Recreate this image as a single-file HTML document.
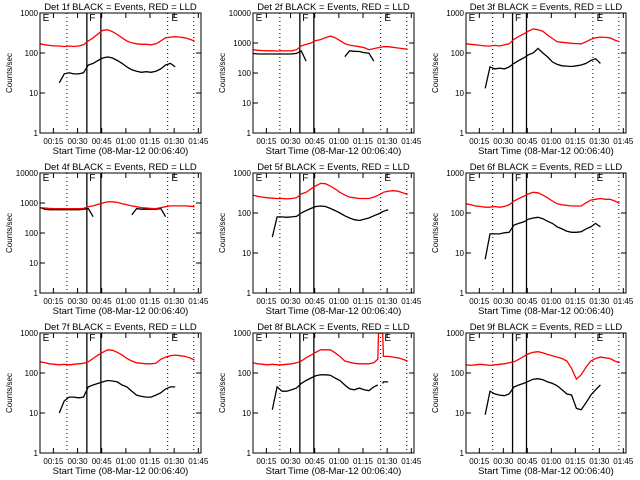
<!DOCTYPE html>
<html><head><meta charset="utf-8"><style>
html,body{margin:0;padding:0;background:#fff;}
svg{display:block;font-family:"Liberation Sans",sans-serif;}
</style></head><body>
<svg id="chart" width="640" height="480" xmlns="http://www.w3.org/2000/svg"></svg>
<script>
const T = [0,3,6,9,12,15,18,21,24,27,30,33,36,39,42,45,48,51,54,57,60,63,66,69,72,75,78,81,84,87,90,93,96];
const T8 = [0,3,6,9,12,15,18,21,24,27,30,33,36,39,42,45,48,51,54,57,60,63,66,69,72,75,77.5,78,80.5,81,84,87,90,93,96];
const detNames = ["1f","2f","3f","4f","5f","6f","7f","8f","9f"];
const xTickLabels = ["00:15","00:30","00:45","01:00","01:15","01:30","01:45"];
const xTickMinutes = [8.33,23.33,38.33,53.33,68.33,83.33,98.33];
const dottedLines = [16.7,79.3,95.5];
const solidLines = [29.1,37.8];
const markerLabels = ["E","F","E"];
const markerMinutes = [1,30,81];
const yMax = [1000,10000,1000,10000,1000,1000,1000,1000,1000];
const red1=[170,160,155,150,150,145,150,145,150,160,200,240,300,370,380,340,290,240,200,180,170,165,165,160,170,200,240,250,255,250,240,220,200];
const blk1=[null,null,null,null,18,30,32,30,30,32,50,55,65,75,80,75,65,55,45,38,35,33,34,33,35,40,50,55,45,null,null,null,null];
const red2=[600,570,560,550,550,540,550,545,550,600,800,900,1000,1200,1300,1500,1700,1500,1200,950,850,800,750,700,600,650,700,750,750,720,680,650,620];
const blk2=[450,430,430,430,430,430,430,430,430,450,540,250,null,null,null,null,null,null,null,350,550,530,520,480,460,250,null,null,null,null,null,null,null];
const red3=[170,165,160,155,150,150,155,150,160,170,220,260,300,350,400,380,350,280,230,190,185,180,175,172,170,190,220,240,250,245,240,210,190];
const blk3=[null,null,null,null,13,45,40,42,40,45,55,65,75,90,100,130,100,80,60,52,48,47,46,48,50,55,65,72,55,null,null,null,null];
const red4=[700,680,660,650,650,650,650,650,650,660,750,800,900,1000,1100,1100,1050,950,880,800,750,700,680,660,650,700,750,800,800,800,800,780,750];
const blk4=[700,620,600,600,600,600,600,600,600,620,650,350,null,null,null,null,null,null,null,400,650,620,620,620,620,650,350,null,null,null,null,null,null];
const red5=[280,260,250,240,235,230,230,225,230,240,300,330,400,480,550,540,470,400,330,280,250,240,230,230,230,250,280,330,350,360,350,320,290];
const blk5=[null,null,null,null,25,80,80,78,80,82,100,115,130,145,150,145,130,115,100,85,75,68,65,70,75,85,95,110,120,null,null,null,null];
const red6=[170,160,150,145,140,140,145,140,145,160,200,230,260,300,330,320,280,240,200,170,160,155,150,150,150,180,210,220,230,220,220,200,175];
const blk6=[null,null,null,null,7,30,30,30,32,33,50,55,60,70,75,78,72,62,55,45,40,35,33,33,34,40,45,55,45,null,null,null,null];
const red7=[190,180,170,165,160,165,160,165,170,175,190,230,280,330,380,370,330,280,230,200,180,175,170,170,175,220,250,270,280,270,260,240,210];
const blk7=[null,null,null,null,10,20,25,25,24,25,45,50,55,60,65,63,60,50,45,35,28,26,25,25,28,32,40,45,45,null,null,null,null];
const red8=[180,170,165,160,165,160,160,165,170,180,200,240,280,330,380,380,380,320,260,200,185,175,170,170,170,180,220,1200,1200,260,260,250,240,220,200];
const blk8=[null,null,null,null,12,45,35,35,38,42,55,65,75,85,90,90,88,75,65,50,40,38,42,38,36,45,50,null,55,60,60,null,null,null,null];
const red9=[160,155,160,165,160,155,160,165,170,180,190,220,260,300,330,340,320,290,270,250,230,200,130,70,90,140,200,230,250,240,230,200,180];
const blk9=[null,null,null,null,9,35,30,28,27,30,45,50,55,62,70,72,68,60,55,48,38,30,28,13,12,18,28,38,50,null,null,null,null];

const reds=[red1,red2,red3,red4,red5,red6,red7,red8,red9];
const blks=[blk1,blk2,blk3,blk4,blk5,blk6,blk7,blk8,blk9];
const times=[T,T,T,T,T,T,T,T8,T];

const NS="http://www.w3.org/2000/svg";
const svg=document.getElementById("chart");
const colX=[[40,201],[253,414],[466,626]];
const rowY=[0,160,320];
const XMAX=100;
function mk(tag,attrs,parent){const e=document.createElementNS(NS,tag);for(const k in attrs)e.setAttribute(k,attrs[k]);parent.appendChild(e);return e;}

for(let p=0;p<9;p++){
  const r=Math.floor(p/3),c=p%3;
  const L=colX[c][0],R=colX[c][1],top=rowY[r]+13,bot=rowY[r]+133;
  const ymax=yMax[p];
  const dec=Math.log10(ymax);
  const xs=t=>L+(t/XMAX)*(R-L);
  const ys=v=>bot-(Math.log10(v)/dec)*(bot-top);
  const g=mk("g",{},svg);
  
  
  const cp=mk("clipPath",{id:"cp"+p},g);
  mk("rect",{x:L,y:top,width:R-L,height:bot-top},cp);
  const title=mk("text",{x:(L+R)/2,y:rowY[r]+10,"text-anchor":"middle","font-size":"9.5"},g);
  title.textContent="Det "+detNames[p]+" BLACK = Events, RED = LLD";
  
  
  for(let d=0;d<=dec;d++){
    const v=Math.pow(10,d),y=ys(v);
    const lb=mk("text",{x:L-2,y:y+3,"text-anchor":"end","font-size":"8"},g);
    lb.textContent=String(v);
    
    
    mk("line",{x1:L,x2:L+5,y1:y,y2:y,stroke:"#000"},g);
    mk("line",{x1:R-5,x2:R,y1:y,y2:y,stroke:"#000"},g);
  }
  const yt=mk("text",{x:0,y:0,"text-anchor":"middle","font-size":"8",transform:`translate(${L-28},${(top+bot)/2}) rotate(-90)`},g);
  yt.textContent="Counts/sec";
  
  
  for(let i=0;i<xTickMinutes.length;i++){
    const x=xs(xTickMinutes[i]);
    mk("line",{x1:x,x2:x,y1:bot,y2:bot-5,stroke:"#000"},g);
    mk("line",{x1:x,x2:x,y1:top,y2:top+5,stroke:"#000"},g);
    const lb=mk("text",{x:x,y:bot+11,"text-anchor":"middle","font-size":"8"},g);
    lb.textContent=xTickLabels[i];
    
    
  }
  const xt=mk("text",{x:(L+R)/2,y:bot+21,"text-anchor":"middle","font-size":"9.5"},g);
  xt.textContent="Start Time (08-Mar-12 00:06:40)";
  
  
  for(const t of dottedLines){const ln=mk("line",{x1:xs(t),x2:xs(t),y1:top,y2:bot,stroke:"#000","stroke-dasharray":"1,3"},g);
    
    }
  for(const t of solidLines){const ln=mk("line",{x1:xs(t),x2:xs(t),y1:top,y2:bot,stroke:"#000","stroke-width":"1.3"},g);
    
    }
  for(let i=0;i<markerLabels.length;i++){const m=mk("text",{x:xs(markerMinutes[i])+1,y:top+8,"font-size":"10"},g);
    m.textContent=markerLabels[i];
    
    }
  function series(vals,color,name){
    let d="",pen=false;const tt=times[p];
    for(let i=0;i<vals.length;i++){
      if(vals[i]==null){pen=false;continue;}
      d+=(pen?"L":"M")+xs(tt[i]).toFixed(1)+" "+ys(vals[i]).toFixed(1)+" ";pen=true;
    }
    const pa=mk("path",{d:d,fill:"none",stroke:color,"stroke-width":"1.3","clip-path":`url(#cp${p})`},g);
    
    
  }
  series(blks[p],"#000","events-series");
  series(reds[p],"#ff0000","lld-series");
  const box=mk("rect",{x:L,y:top,width:R-L,height:bot-top,fill:"none",stroke:"#000"},g);
  
  
}
</script>
</body></html>
